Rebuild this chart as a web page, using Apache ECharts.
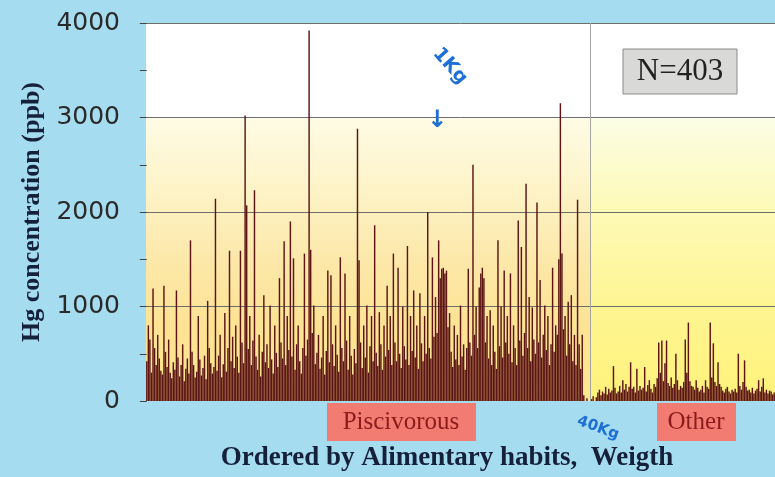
<!DOCTYPE html>
<html><head><meta charset="utf-8">
<script src="https://cdn.jsdelivr.net/npm/echarts@6/dist/echarts.min.js"></script>
<style>html,body{margin:0;padding:0;background:#a6dcef}#c{width:775px;height:477px}</style>
</head><body><div id="c"></div>
<script>
// Hg concentration (ppb) of 403 fish, ordered by alimentary habit then weight
const hgValues = [
  420, 800, 650, 300, 1190, 560, 380, 700, 450, 320,
  280, 1220, 520, 360, 650, 300, 240, 410, 330, 1170,
  460, 260, 380, 600, 210, 340, 450, 290, 1700, 520,
  380, 250, 310, 900, 440, 270, 350, 480, 230, 1060,
  560, 400, 290, 360, 2140, 320, 480, 700, 250, 390,
  930, 310, 560, 1590, 420, 680, 350, 800, 470, 300,
  1590, 620, 400, 3020, 2070, 550, 900, 380, 640, 2230,
  470, 330, 700, 260, 520, 1120, 410, 600, 350, 1010,
  440, 290, 800, 510, 360, 1300, 620, 450, 1690, 380,
  900, 540, 1900, 470, 1510, 330, 600, 800, 420, 290,
  560, 1560, 480, 650, 3920, 1600, 720, 1010, 390, 510,
  700, 340, 460, 900, 280, 530, 1380, 410, 1330, 600,
  370, 800, 490, 310, 1520, 560, 420, 1350, 640, 330,
  900, 480, 280, 550, 400, 2880, 1490, 620, 350, 800,
  460, 1010, 300, 580, 900, 420, 1860, 510, 370, 940,
  600, 330, 800, 470, 1220, 540, 900, 380, 1560, 620,
  420, 1410, 500, 350, 1000, 580, 440, 1640, 380, 900,
  530, 1170, 460, 800, 340, 1140, 610, 420, 900, 500,
  2000, 560, 450, 1520, 680, 1100, 720, 1700, 1300, 1400,
  1410, 1350, 1380, 780, 930, 520, 360, 800, 440, 700,
  380, 1010, 470, 600, 330, 560, 1400, 620, 480, 2500,
  700, 1000, 560, 1200, 1350, 1410, 1300, 620, 900, 450,
  960, 380, 800, 520, 340, 1700, 580, 1000, 460, 1380,
  620, 900, 500, 1350, 410, 800, 560, 380, 1910, 640,
  1630, 480, 720, 2300, 560, 1100, 420, 990, 650, 500,
  2100, 620, 1280, 460, 700, 1010, 540, 900, 380, 600,
  1410, 520, 800, 700, 1500, 3150, 1560, 760, 900, 480,
  1050, 600, 1120, 420, 700, 380, 2130, 600, 340, 700,
  60, 0, 30, 0, 0, 20, 50, 0, 40, 90,
  120, 60, 100, 80, 150, 70, 130, 90, 110, 370,
  140, 80, 100, 160, 90, 220, 120, 180, 100, 150,
  410, 130, 150, 90, 340, 110, 160, 120, 140, 360,
  100, 170, 220, 130, 90, 180, 150, 240, 620, 300,
  640, 210, 400, 640, 190, 160, 250, 140, 180, 500,
  220, 120, 160, 140, 200, 650, 300, 830, 210, 160,
  150, 120, 220, 140, 100, 120, 160, 90, 220, 150,
  130, 830, 250, 610, 200, 160, 410, 180, 150, 110,
  90, 130, 150, 100, 80, 120, 100, 130, 90, 500,
  160, 120, 200, 430, 150, 110, 120, 90, 140, 80,
  110, 130, 220, 100, 150, 240, 90, 120, 80, 110,
  100, 70, 90
];
const sampleIds = hgValues.map((_, i) => 'Fish ' + (i + 1));
// group boundary (sample index): Piscivorous | Other
const groupNames = ['Piscivorous', 'Other'];
const groupSplit = 284;
const yMin = 0, yMax = 4000, yStep = 1000;
const sampleCount = 'N=' + hgValues.length;

const chart = echarts.init(document.getElementById('c'), null, {renderer: 'canvas'});
const leftBg = {type: 'linear', x: 0, y: 0, x2: 0, y2: 1, colorStops: [
  {offset: 0, color: '#ffffff'}, {offset: 0.25, color: '#ffffff'},
  {offset: 0.255, color: '#fefbe4'}, {offset: 0.45, color: '#fdf3c6'},
  {offset: 0.62, color: '#fce8aa'}, {offset: 0.8, color: '#fde393'},
  {offset: 1, color: '#fde78e'}]};
const rightBg = {type: 'linear', x: 0, y: 0, x2: 0, y2: 1, colorStops: [
  {offset: 0, color: '#ffffff'}, {offset: 0.25, color: '#ffffff'},
  {offset: 0.255, color: '#fbfde4'}, {offset: 0.5, color: '#fdfab6'},
  {offset: 0.75, color: '#fef592'}, {offset: 1, color: '#fff27a'}]};
const center = {align: 'center', verticalAlign: 'middle', textAlign: 'center', textVerticalAlign: 'middle'};
chart.setOption({
  animation: false,
  backgroundColor: '#a6dcef',
  grid: {left: 146, right: 0, top: 23, bottom: 76, containLabel: false},
  xAxis: [{
    type: 'category', data: sampleIds,
    axisLine: {show: false}, axisTick: {show: false}, axisLabel: {show: false},
    name: 'Ordered by Alimentary habits,  Weigth',
    nameLocation: 'middle', nameGap: 44,
    nameTextStyle: {fontFamily: '"Liberation Serif", serif', fontWeight: 'bold', fontSize: 27, color: '#15203a', padding: [0, 27, 0, 0]}
  }, {
    type: 'value', show: false, min: -0.5, max: hgValues.length - 0.5
  }],
  yAxis: {
    type: 'value', min: yMin, max: yMax, interval: yStep, z: 2,
    axisLine: {show: false},
    axisTick: {show: true, length: 7, lineStyle: {color: '#444'}},
    minorTick: {show: true, splitNumber: 2, length: 7, lineStyle: {color: '#444'}},
    axisLabel: {margin: 26, fontFamily: '"DejaVu Sans", sans-serif', fontSize: 25, color: '#2a2a2a', formatter: v => String(v)},
    splitLine: {show: true, showMinLine: false, lineStyle: {color: '#6e6e6c', width: 1}},
    name: 'Hg concentration (ppb)',
    nameLocation: 'middle', nameRotate: 90, nameGap: 100,
    nameTextStyle: {fontFamily: '"Liberation Serif", serif', fontWeight: 'bold', fontSize: 26, color: '#15203a'}
  },
  series: [{
    type: 'bar', data: hgValues, z: 3,
    barCategoryGap: '8%',
    itemStyle: {color: '#5c1414'}
  }, {
    type: 'line', xAxisIndex: 1, data: [], z: 1, silent: true,
    markArea: {
      silent: true, z: 1,
      label: {show: false},
      data: [
        [{xAxis: -0.5, yAxis: yMin, itemStyle: {color: leftBg}}, {xAxis: groupSplit, yAxis: yMax}],
        [{xAxis: groupSplit, yAxis: yMin, itemStyle: {color: rightBg}}, {xAxis: hgValues.length - 0.5, yAxis: yMax}]
      ]
    },
    markLine: {
      silent: true, symbol: ['none', 'none'], label: {show: false},
      lineStyle: {color: '#a4a4a0', width: 1, type: 'solid'},
      data: [{xAxis: groupSplit}]
    }
  }],
  graphic: [
    {type: 'rect', z: 10, shape: {x: 327, y: 403, width: 149, height: 38}, style: {fill: '#f27c72'}},
    {type: 'text', z: 11, x: 401, y: 422, style: Object.assign({text: groupNames[0], fill: '#8b1c1c', font: '25px "Liberation Serif", serif'}, center)},
    {type: 'rect', z: 10, shape: {x: 657, y: 403, width: 79, height: 38}, style: {fill: '#f27c72'}},
    {type: 'text', z: 11, x: 696, y: 422, style: Object.assign({text: groupNames[1], fill: '#8b1c1c', font: '25px "Liberation Serif", serif'}, center)},
    {type: 'rect', z: 10, shape: {x: 623, y: 49, width: 114, height: 45}, style: {fill: '#d9d9d7', stroke: '#8a8a8a', lineWidth: 1}},
    {type: 'text', z: 11, x: 680, y: 72, style: Object.assign({text: sampleCount, fill: '#222', font: '31px "Liberation Serif", serif'}, center)},
    {type: 'text', z: 11, x: 450, y: 66, rotation: -0.85, style: Object.assign({text: '1Kg', fill: '#1d6fd6', font: 'bold 19px "DejaVu Sans", sans-serif'}, center)},
    {type: 'text', z: 11, x: 437, y: 121, style: Object.assign({text: '↓', fill: '#1d6fd6', font: 'bold 24px "DejaVu Sans", sans-serif'}, center)},
    {type: 'text', z: 11, x: 598, y: 428, rotation: -0.35, style: Object.assign({text: '40Kg', fill: '#1d6fd6', font: 'bold 15px "DejaVu Sans", sans-serif'}, center)}
  ]
});
</script></body></html>
